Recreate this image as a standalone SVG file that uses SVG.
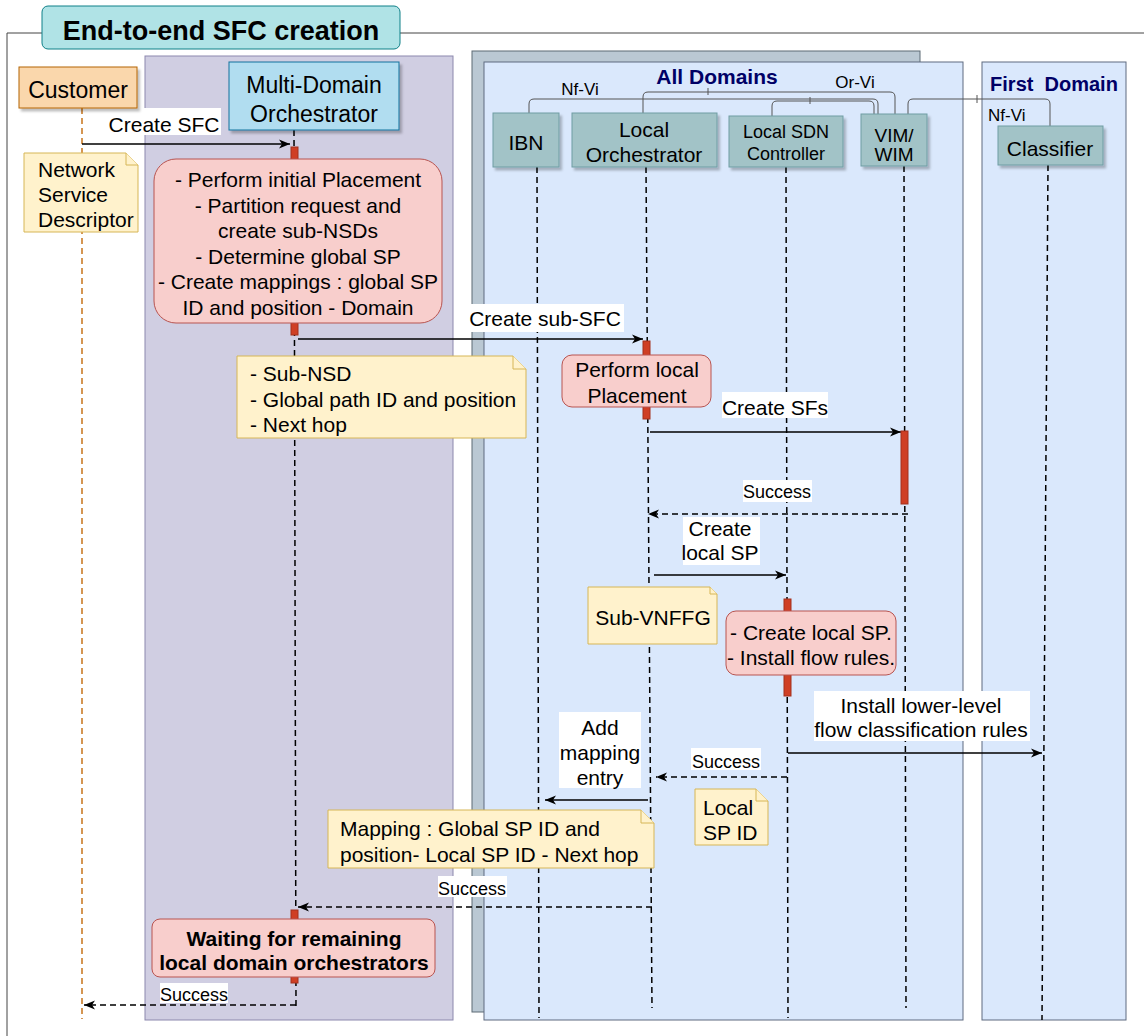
<svg xmlns="http://www.w3.org/2000/svg" width="1144" height="1036" viewBox="0 0 1144 1036">
<style>
text{font-family:"Liberation Sans",Arial,sans-serif;fill:#000}
.t21{font-size:21px}
.t18{font-size:18px}
.t17{font-size:17px}
.c{text-anchor:middle}
.b{font-weight:bold}
.life{stroke:#000;stroke-width:1.5;stroke-dasharray:6 4;fill:none}
.msg{stroke:#000;stroke-width:1.5;fill:none;marker-end:url(#arr)}
.ret{stroke:#000;stroke-width:1.5;stroke-dasharray:6 4;fill:none;marker-end:url(#arr)}
.bar{fill:#cf3f25;stroke:#a3301c;stroke-width:1}
.pink{fill:#f8cecc;stroke:#b85450;stroke-width:1}
.note{fill:#fff2cc;stroke:#d6b656;stroke-width:1}
.ent{fill:#a2c3c7;stroke:#6f9da3;stroke-width:1;filter:url(#sh)}
.lbl{fill:#fff}
.iface{stroke:#555;stroke-width:1;fill:none}
.dom{fill:#000066}
</style>
<defs>
<marker id="arr" markerUnits="userSpaceOnUse" viewBox="0 0 12 10" markerWidth="12" markerHeight="10" refX="11" refY="5" orient="auto">
<path d="M0,0.5 L11,5 L0,9.5 L3,5 Z" fill="#000"/>
</marker>
<filter id="sh" x="-10%" y="-10%" width="130%" height="140%">
<feDropShadow dx="2.5" dy="3" stdDeviation="1.2" flood-color="#000" flood-opacity="0.25"/>
</filter>
</defs>

<g id="frame">
<path d="M7,1036 V33 H42 M400,33 H1144" stroke="#444" stroke-width="1" fill="none"/>
</g>

<g id="panels">
<rect x="145" y="56" width="308" height="964" fill="#d0cee2" stroke="#8c88ad" stroke-width="1"/>
<rect x="472" y="51" width="448" height="961" fill="#bac8d3" stroke="#5d6a75" stroke-width="1"/>
<rect x="484" y="62" width="479" height="958" fill="#dae8fc" stroke="#5f6b80" stroke-width="1"/>
<rect x="982" y="62" width="144" height="958" fill="#dae8fc" stroke="#5f6b80" stroke-width="1"/>
<text class="b c dom" x="717" y="84" style="font-size:21px">All Domains</text>
<text class="b c dom" x="1054" y="91" style="font-size:20px">First&#160; Domain</text>
</g>

<g id="title">
<rect x="42" y="6" width="358" height="43" rx="6" fill="#b0e3e6" stroke="#0e8088" stroke-width="1"/>
<text class="b c" x="221" y="40" style="font-size:27px">End-to-end SFC creation</text>
</g>

<g id="connectors">
<path class="iface" d="M529,113 V104 Q529,99 534,99 H873 Q878,99 878,104 V114"/>
<path class="iface" d="M772,116 V106 Q772,101 777,101 H869 Q874,101 874,106 V114"/>
<path class="iface" d="M643,113 V97 Q643,92 648,92 H890 Q895,92 895,97 V114"/>
<path class="iface" d="M908,114 V104 Q908,99 913,99 H1045 Q1050,99 1050,104 V126"/>
<path class="iface" d="M708,88 V95 M810,97 V104 M977,95 V103"/>
<text class="t17 c" x="580" y="95">Nf-Vi</text>
<text class="t17 c" x="855" y="88">Or-Vi</text>
<text class="t17" x="988" y="121">Nf-Vi</text>

<line x1="82" y1="108" x2="82" y2="1019" stroke="#c8741a" stroke-width="1.5" stroke-dasharray="6 4"/>
<line class="life" x1="294" y1="130" x2="296" y2="1008"/>
<line class="life" x1="537" y1="167" x2="539" y2="1018"/>
<line class="life" x1="646" y1="167" x2="652" y2="1008"/>
<line class="life" x1="786" y1="167" x2="788" y2="1018"/>
<line class="life" x1="904" y1="166" x2="906" y2="1008"/>
<line class="life" x1="1048" y1="165" x2="1042" y2="1020"/>

<line class="msg" x1="82" y1="144" x2="290" y2="144"/>
<line class="msg" x1="298" y1="339" x2="643" y2="339"/>
<line class="msg" x1="650" y1="432" x2="901" y2="432"/>
<line class="ret" x1="908" y1="514" x2="648" y2="514"/>
<line class="msg" x1="654" y1="575" x2="786" y2="575"/>
<line class="msg" x1="788" y1="753" x2="1042" y2="753"/>
<line class="ret" x1="787" y1="777" x2="656" y2="777"/>
<line class="msg" x1="648" y1="800" x2="545" y2="800"/>
<line class="ret" x1="652" y1="907" x2="298" y2="907"/>
<line class="ret" x1="296" y1="1005" x2="84" y2="1005"/>

<rect class="bar" x="291" y="147" width="7" height="188"/>
<rect class="bar" x="291" y="910" width="7" height="73"/>
<rect class="bar" x="643" y="341" width="7" height="78"/>
<rect class="bar" x="901" y="431" width="7" height="73"/>
<rect class="bar" x="784" y="599" width="7" height="97"/>

<rect class="lbl" x="107" y="108" width="114" height="27"/>
<text class="t21 c" x="164" y="132">Create SFC</text>
<rect class="lbl" x="467" y="304" width="157" height="28"/>
<text class="t21 c" x="545" y="326">Create sub-SFC</text>
<rect class="lbl" x="722" y="392" width="106" height="26"/>
<text class="t21 c" x="775" y="415">Create SFs</text>
<rect class="lbl" x="743" y="480" width="69" height="22"/>
<text class="t18 c" x="777" y="498">Success</text>
<rect class="lbl" x="683" y="517" width="77" height="48"/>
<text class="t21 c" x="720" y="536">Create</text>
<text class="t21 c" x="720" y="560">local SP</text>
<rect class="lbl" x="814" y="691" width="216" height="50"/>
<text class="t21 c" x="921" y="713">Install lower-level</text>
<text class="t21 c" x="921" y="737">flow classification rules</text>
<rect class="lbl" x="691" y="748" width="70" height="22"/>
<text class="t18 c" x="726" y="768">Success</text>
<rect class="lbl" x="559" y="712" width="82" height="76"/>
<text class="t21 c" x="600" y="735">Add</text>
<text class="t21 c" x="600" y="760">mapping</text>
<text class="t21 c" x="600" y="785">entry</text>
<rect class="lbl" x="438" y="876" width="69" height="21"/>
<text class="t18 c" x="472" y="895">Success</text>
<rect class="lbl" x="160" y="983" width="68" height="20"/>
<text class="t18 c" x="194" y="1001">Success</text>
</g>

<g id="customer">
<rect x="19" y="67" width="118" height="41" fill="#fad7ac" stroke="#b46504" stroke-width="1" filter="url(#sh)"/>
<text class="c" x="78" y="98" style="font-size:23px">Customer</text>
</g>

<g id="mdo">
<rect x="229" y="62" width="170" height="68" fill="#b1ddf0" stroke="#10739e" stroke-width="1" filter="url(#sh)"/>
<text class="c" x="314" y="93" style="font-size:23px">Multi-Domain</text>
<text class="c" x="314" y="122" style="font-size:23px">Orchestrator</text>
</g>

<g id="ibn">
<rect class="ent" x="493" y="113" width="66" height="54"/>
<text class="c" x="526" y="150" style="font-size:21px">IBN</text>
</g>

<g id="local-orchestrator">
<rect class="ent" x="572" y="113" width="145" height="54"/>
<text class="t21 c" x="644" y="137">Local</text>
<text class="t21 c" x="644" y="162">Orchestrator</text>
</g>

<g id="local-sdn-controller">
<rect class="ent" x="729" y="116" width="114" height="51"/>
<text class="t18 c" x="786" y="138">Local SDN</text>
<text class="t18 c" x="786" y="160">Controller</text>
</g>

<g id="vim-wim">
<rect class="ent" x="861" y="114" width="66" height="52"/>
<text class="c" x="894" y="142" style="font-size:19px">VIM/</text>
<text class="c" x="894" y="161" style="font-size:19px">WIM</text>
</g>

<g id="classifier">
<rect class="ent" x="998" y="126" width="105" height="39"/>
<text class="t21 c" x="1050" y="156">Classifier</text>
</g>

<g id="nsd-note">
<path class="note" d="M24,153 H126 L138,165 V232 H24 Z"/>
<path class="note" d="M126,153 V165 H138"/>
<text class="t21" x="38" y="177">Network</text>
<text class="t21" x="38" y="202">Service</text>
<text class="t21" x="38" y="227">Descriptor</text>
</g>

<g id="initial-placement">
<rect class="pink" x="154" y="159" width="288" height="164" rx="22"/>
<text class="t21 c" x="298" y="187">- Perform initial Placement</text>
<text class="t21 c" x="298" y="212.5">- Partition request and</text>
<text class="t21 c" x="298" y="238">create sub-NSDs</text>
<text class="t21 c" x="298" y="263.5">- Determine global SP</text>
<text class="t21 c" x="298" y="289">- Create mappings : global SP</text>
<text class="t21 c" x="298" y="314.5">ID and position - Domain</text>
</g>

<g id="sub-nsd-note">
<path class="note" d="M237,356 H513 L526,369 V438 H237 Z"/>
<path class="note" d="M513,356 V369 H526"/>
<text class="t21" x="250" y="381">- Sub-NSD</text>
<text class="t21" x="250" y="406.5">- Global path ID and position</text>
<text class="t21" x="250" y="432">- Next hop</text>
</g>

<g id="local-placement">
<rect class="pink" x="562" y="355" width="149" height="52" rx="10"/>
<text class="t21 c" x="637" y="377">Perform local</text>
<text class="t21 c" x="637" y="402.5">Placement</text>
</g>

<g id="sub-vnffg-note">
<path class="note" d="M588,587 H710 L717,594 V644 H588 Z"/>
<path class="note" d="M710,587 V594 H717"/>
<text class="t21 c" x="653" y="625">Sub-VNFFG</text>
</g>

<g id="create-local-sp">
<rect class="pink" x="726" y="611" width="170" height="64" rx="10"/>
<text class="t21 c" x="811" y="640">- Create local SP.</text>
<text class="t21 c" x="811" y="665">- Install flow rules.</text>
</g>

<g id="local-sp-id-note">
<path class="note" d="M695,789 H756 L768,801 V845 H695 Z"/>
<path class="note" d="M756,789 V801 H768"/>
<text class="t21" x="703" y="815">Local</text>
<text class="t21" x="703" y="840">SP ID</text>
</g>

<g id="mapping-note">
<path class="note" d="M328,810 H641 L654,823 V868 H328 Z"/>
<path class="note" d="M641,810 V823 H654"/>
<text class="t21" x="340" y="836">Mapping : Global SP ID and</text>
<text class="t21" x="340" y="862">position- Local SP ID - Next hop</text>
</g>

<g id="waiting">
<rect class="pink" x="152" y="919" width="283" height="58" rx="8"/>
<text class="c b" x="294" y="946" style="font-size:21px">Waiting for remaining</text>
<text class="c b" x="294" y="970" style="font-size:21px">local domain orchestrators</text>
</g>
</svg>
